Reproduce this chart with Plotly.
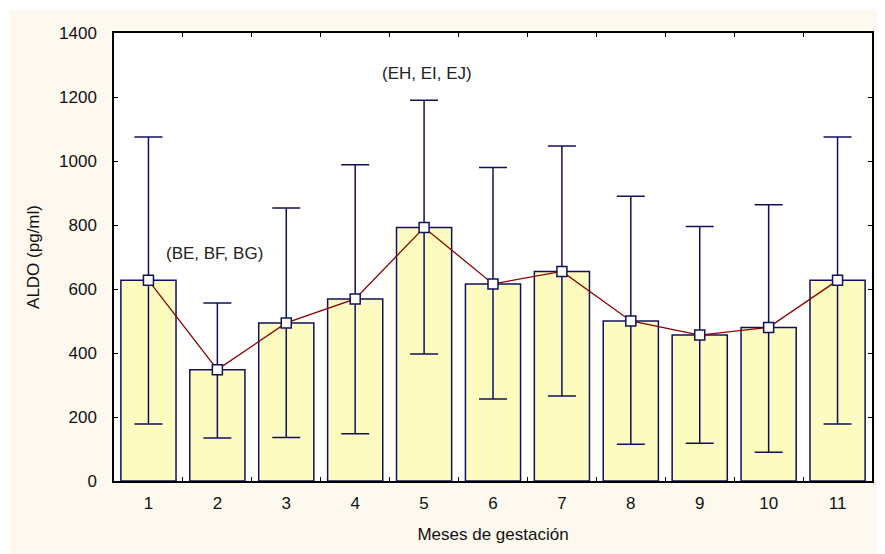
import plotly.graph_objects as go

months = ["1", "2", "3", "4", "5", "6", "7", "8", "9", "10", "11"]
means = [627, 348, 494, 569, 792, 616, 655, 500, 456, 480, 627]
upper = [1075, 556, 853, 988, 1190, 980, 1047, 890, 795, 863, 1075]
lower = [178, 134, 136, 148, 397, 256, 266, 115, 118, 90, 178]
y_ticks = [0, 200, 400, 600, 800, 1000, 1200, 1400]

NAVY = "#10105e"
CREAM = "#fdf9ee"
BAR = "#fcfcc0"
RED = "#8b0000"

err_plus = [u - m for u, m in zip(upper, means)]
err_minus = [m - l for m, l in zip(means, lower)]

fig = go.Figure()
fig.add_trace(go.Bar(
    x=months, y=means,
    marker=dict(color=BAR, line=dict(color=NAVY, width=1.5)),
    error_y=dict(type="data", array=err_plus, arrayminus=err_minus,
                 color=NAVY, thickness=1.5, width=14),
    showlegend=False,
))
fig.add_trace(go.Scatter(
    x=months, y=means, mode="lines+markers",
    line=dict(color=RED, width=1.3),
    marker=dict(symbol="square", size=10, color="white",
                line=dict(color=NAVY, width=1.5)),
    showlegend=False,
))

# category-axis annotations use index positions
fig.add_annotation(x=0.96, y=712, text="(BE, BF, BG)", showarrow=False,
                   font=dict(size=17, color="#222"))
fig.add_annotation(x=4.04, y=1275, text="(EH, EI, EJ)", showarrow=False,
                   font=dict(size=17, color="#222"))

# page body adds an 8px offset, so the figure is sized to fill the rest
W, H = 877, 546
L, R, T, B = 106, 13, 25, 73
pw = W - L - R
ph = H - T - B
# thin white strips at top and left edges
fig.add_shape(type="rect", xref="paper", yref="paper",
              x0=-L / pw - 0.01, x1=(2 - L) / pw, y0=-B / ph - 0.1, y1=1 + T / ph + 0.1,
              fillcolor="white", line=dict(width=0), layer="below")
fig.add_shape(type="rect", xref="paper", yref="paper",
              x0=-L / pw - 0.01, x1=1 + R / pw + 0.01, y0=1 + (T - 1.5) / ph, y1=1 + T / ph + 0.1,
              fillcolor="white", line=dict(width=0), layer="below")

fig.update_layout(
    width=W, height=H,
    margin=dict(l=L, r=R, t=T, b=B, autoexpand=False),
    paper_bgcolor=CREAM, plot_bgcolor="white",
    bargap=0.2,
    font=dict(family="Liberation Sans, Arial, sans-serif", size=17, color="#111"),
    xaxis=dict(
        type="category", range=[-0.5, 10.5], tickson="boundaries",
        ticks="inside", ticklen=4,
        tickcolor="black", showline=True, linecolor="black", linewidth=1.5,
        mirror="ticks", showgrid=False, zeroline=False, automargin=False,
        ticklabelstandoff=6,
        title=dict(text="Meses de gestación", standoff=16, font=dict(size=17)),
    ),
    yaxis=dict(
        range=[0, 1400], tickvals=y_ticks, ticks="inside", ticklen=4,
        tickcolor="black", showline=True, linecolor="black", linewidth=1.5,
        mirror="ticks", showgrid=False, zeroline=False, automargin=False,
        ticklabelstandoff=12,
        title=dict(text="ALDO (pg/ml)", standoff=15, font=dict(size=17)),
    ),
)

fig.write_html("out.html")
